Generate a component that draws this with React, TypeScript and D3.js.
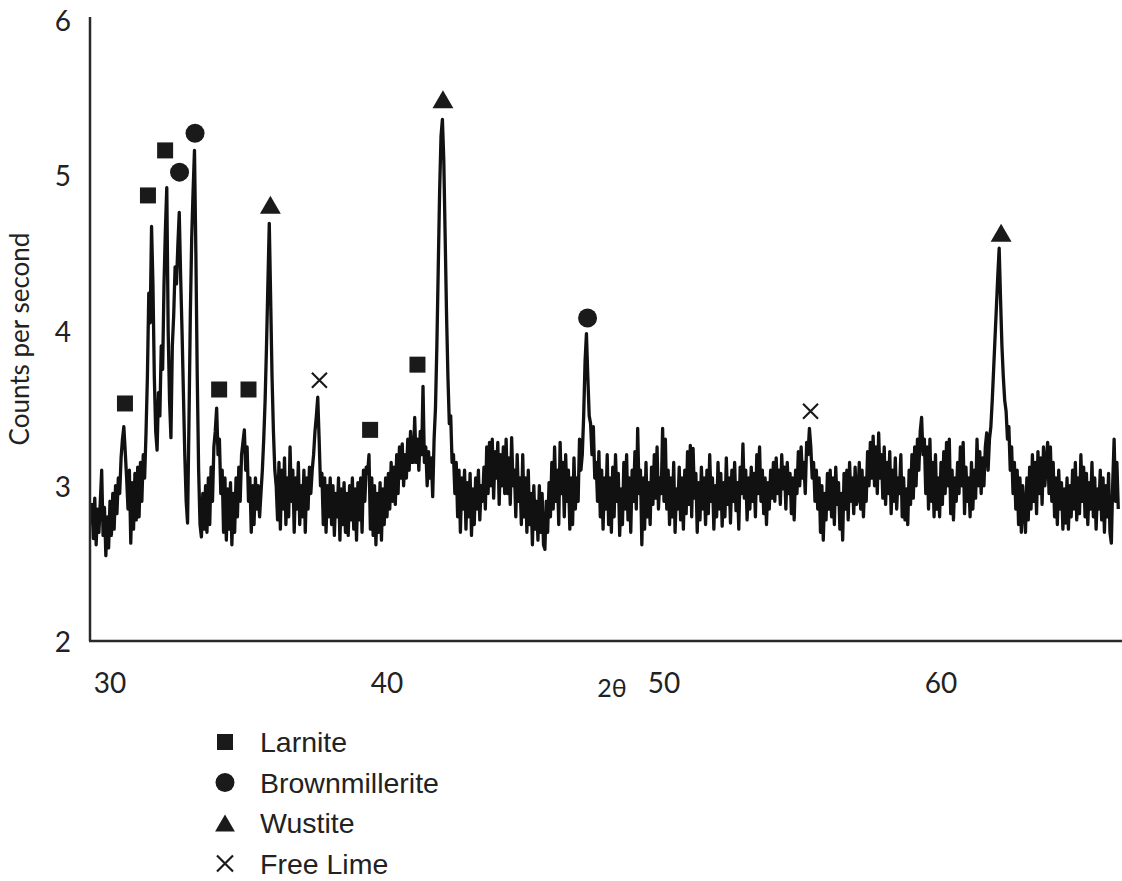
import React from 'react';
import * as d3 from 'd3';

// XRD scan: counts per second sampled every 0.05° 2θ, starting at 29.30°
const ANGLE_START = 29.3;
const ANGLE_STEP = 0.05;

const counts29 = [2.75, 2.88, 2.66, 2.92, 2.62, 2.85, 2.70, 2.90, 3.10, 2.68, 2.86, 2.55, 2.80, 2.60];
const counts30 = [2.90, 2.68, 2.95, 2.72, 3.00, 2.82, 3.05, 2.95, 3.18, 3.30, 3.38, 3.22, 3.05, 2.85, 3.10, 2.63, 3.02, 2.72, 3.08, 2.78];
const counts31 = [3.12, 2.80, 3.15, 2.90, 3.20, 3.05, 3.34, 3.70, 4.24, 4.05, 4.67, 4.30, 3.70, 3.35, 3.23, 3.60, 3.45, 3.90, 3.75, 4.30];
const counts32 = [4.65, 4.92, 4.00, 3.55, 3.31, 3.90, 4.10, 4.41, 4.30, 4.55, 4.76, 4.35, 4.00, 3.60, 3.20, 2.90, 2.76, 3.40, 4.10, 4.60];
const counts33 = [4.90, 5.16, 4.50, 3.70, 3.10, 2.75, 2.67, 2.95, 2.72, 3.00, 2.70, 3.05, 2.75, 3.12, 2.90, 3.25, 3.35, 3.50, 3.20, 3.30];
const counts34 = [2.95, 3.10, 2.70, 3.05, 2.65, 2.98, 2.72, 3.02, 2.62, 2.95, 2.70, 3.05, 2.80, 3.12, 2.90, 3.20, 3.28, 3.36, 3.10, 3.25];
const counts35 = [2.90, 3.05, 2.70, 3.00, 2.75, 3.05, 2.85, 3.00, 2.80, 2.95, 3.10, 3.30, 3.55, 3.90, 4.30, 4.69, 4.20, 3.70, 3.35, 3.10];
const counts36 = [3.00, 2.78, 3.15, 2.72, 3.10, 2.85, 3.18, 2.75, 3.05, 2.80, 3.25, 2.90, 3.10, 2.70, 3.05, 2.85, 3.15, 2.75, 3.00, 2.80];
const counts37 = [3.10, 2.70, 3.05, 2.85, 3.12, 2.95, 3.10, 3.20, 3.35, 3.45, 3.57, 3.30, 3.00, 3.08, 2.75, 3.05, 2.70, 3.00, 2.80, 3.05];
const counts38 = [2.75, 3.00, 2.68, 2.95, 2.80, 3.05, 2.65, 2.98, 2.75, 3.02, 2.70, 2.95, 2.68, 3.00, 2.78, 3.05, 2.72, 2.98, 2.65, 3.02];
const counts39 = [2.78, 3.05, 2.70, 3.10, 2.90, 3.12, 3.08, 3.20, 2.72, 3.05, 2.68, 3.00, 2.62, 2.95, 2.70, 3.02, 2.65, 2.98, 2.75, 3.05];
const counts40 = [2.80, 3.08, 2.85, 3.15, 2.90, 3.12, 2.88, 3.20, 2.95, 3.25, 3.05, 3.27, 3.00, 3.20, 3.05, 3.30, 3.10, 3.35, 3.15, 3.15];
const counts41 = [3.44, 3.15, 3.30, 3.10, 3.35, 3.20, 3.64, 3.15, 3.25, 3.00, 3.22, 3.05, 3.18, 2.93, 3.30, 3.50, 3.90, 4.40, 4.90, 5.25];
const counts42 = [5.36, 5.10, 4.60, 4.10, 3.70, 3.40, 3.45, 3.15, 3.20, 2.95, 3.15, 2.80, 3.10, 2.70, 3.05, 2.85, 3.10, 2.72, 3.02, 2.80];
const counts43 = [3.08, 2.68, 2.98, 2.75, 3.05, 2.85, 3.10, 2.78, 3.00, 2.90, 3.12, 2.85, 3.25, 2.95, 3.28, 3.00, 3.30, 2.92, 3.22, 3.05];
const counts44 = [3.28, 2.88, 3.20, 3.00, 3.25, 2.95, 3.30, 2.95, 3.18, 2.88, 3.31, 3.00, 3.10, 2.80, 3.20, 2.90, 3.05, 2.75, 3.20, 2.80];
const counts45 = [3.05, 2.70, 3.10, 2.75, 2.95, 2.62, 3.00, 2.72, 2.90, 2.65, 3.00, 2.70, 2.95, 2.62, 2.59, 2.90, 2.70, 3.02, 2.80, 3.15];
const counts46 = [2.85, 3.25, 2.90, 3.10, 2.75, 3.28, 2.95, 3.15, 2.80, 3.20, 2.90, 3.10, 2.72, 3.05, 2.75, 3.18, 2.85, 3.05, 2.90, 3.30];
const counts47 = [3.10, 3.20, 3.45, 3.80, 3.98, 3.70, 3.45, 3.40, 3.20, 3.38, 3.05, 3.15, 2.90, 3.22, 2.80, 3.10, 2.72, 3.05, 2.85, 3.20];
const counts48 = [2.75, 3.05, 2.70, 3.12, 2.80, 3.20, 2.90, 3.08, 2.68, 2.98, 2.75, 3.15, 2.85, 3.20, 2.78, 3.05, 2.70, 3.10, 2.90, 3.22];
const counts49 = [2.85, 3.37, 2.95, 3.10, 2.62, 3.05, 2.72, 3.15, 2.80, 3.02, 2.75, 3.12, 2.88, 3.20, 2.92, 3.25, 2.85, 3.05, 2.95, 3.37];
const counts50 = [2.90, 3.30, 2.85, 3.10, 2.75, 3.05, 2.80, 3.15, 2.70, 2.98, 2.85, 3.12, 2.78, 3.05, 2.72, 3.10, 2.82, 3.22, 2.88, 3.26];
const counts51 = [2.80, 3.24, 2.92, 3.08, 2.70, 3.02, 2.78, 3.12, 2.85, 3.05, 2.75, 3.10, 2.82, 3.20, 2.90, 3.05, 2.72, 3.00, 2.80, 3.15];
const counts52 = [2.85, 3.08, 2.74, 3.02, 2.80, 3.18, 2.88, 3.05, 2.76, 3.10, 2.90, 3.15, 2.84, 3.02, 2.72, 3.12, 2.95, 3.27, 2.92, 3.10];
const counts53 = [2.78, 3.05, 2.85, 3.12, 2.90, 3.08, 2.80, 3.20, 2.95, 3.25, 2.90, 3.10, 2.82, 3.05, 2.75, 3.02, 2.85, 3.10, 2.92, 3.15];
const counts54 = [2.90, 3.18, 2.95, 3.10, 2.88, 3.20, 2.98, 3.12, 2.85, 3.15, 2.95, 3.08, 2.82, 3.05, 2.78, 3.10, 2.95, 3.22, 3.00, 3.25];
const counts55 = [3.05, 3.15, 2.95, 3.28, 3.20, 3.37, 3.25, 3.05, 3.15, 2.90, 3.10, 2.85, 3.05, 2.70, 3.00, 2.65, 2.95, 2.78, 3.08, 2.85];
const counts56 = [3.10, 2.80, 3.05, 2.75, 3.12, 2.88, 3.02, 2.72, 2.95, 2.65, 3.08, 2.85, 3.10, 2.78, 3.15, 2.90, 3.05, 2.82, 3.12, 2.88];
const counts57 = [2.92, 3.15, 2.85, 3.10, 2.80, 3.05, 2.90, 3.22, 3.00, 3.28, 3.05, 3.32, 3.00, 3.25, 2.95, 3.34, 3.05, 3.20, 2.92, 3.25];
const counts58 = [2.88, 3.15, 2.95, 3.22, 2.82, 3.10, 2.90, 3.18, 2.85, 3.05, 2.95, 3.20, 2.80, 3.05, 2.78, 2.98, 2.75, 3.10, 2.88, 3.20];
const counts59 = [2.92, 3.25, 3.00, 3.30, 3.10, 3.35, 3.44, 3.20, 3.30, 2.95, 3.25, 2.85, 3.30, 2.90, 3.15, 2.80, 3.20, 2.85, 3.05, 2.80];
const counts60 = [3.15, 2.88, 3.22, 2.95, 3.28, 3.00, 3.30, 2.82, 3.10, 2.78, 3.05, 2.90, 3.15, 2.95, 3.25, 3.00, 3.28, 2.82, 3.12, 2.90];
const counts61 = [3.05, 2.80, 3.15, 2.85, 3.10, 2.92, 3.30, 3.00, 3.22, 2.95, 3.18, 3.00, 3.25, 3.34, 3.10, 3.30, 3.38, 3.55, 3.75, 3.95];
const counts62 = [4.15, 4.35, 4.53, 4.20, 3.90, 3.70, 3.55, 3.48, 3.30, 3.38, 3.10, 3.25, 2.95, 3.15, 2.85, 3.10, 2.75, 3.05, 2.70, 3.00];
const counts63 = [2.85, 2.70, 3.05, 2.78, 3.12, 2.85, 3.20, 2.90, 3.15, 2.82, 3.22, 2.95, 3.18, 2.88, 3.25, 3.00, 3.15, 3.28, 2.95, 3.25];
const counts64 = [2.90, 3.15, 2.80, 3.05, 2.75, 3.10, 2.85, 3.02, 2.72, 2.98, 2.76, 3.05, 2.72, 3.00, 2.80, 3.10, 2.85, 3.15, 2.78, 3.05];
const counts65 = [2.82, 3.20, 2.90, 3.12, 2.80, 3.08, 2.75, 3.02, 2.85, 3.15, 2.80, 3.05, 2.72, 2.98, 2.85, 3.10, 2.78, 3.05, 2.70, 3.00];
const counts66 = [2.80, 3.08, 2.70, 2.63, 3.02, 3.30, 2.90, 3.15, 2.85];

const COUNTS = [
  ...counts29, ...counts30, ...counts31, ...counts32, ...counts33, ...counts34,
  ...counts35, ...counts36, ...counts37, ...counts38, ...counts39, ...counts40,
  ...counts41, ...counts42, ...counts43, ...counts44, ...counts45, ...counts46,
  ...counts47, ...counts48, ...counts49, ...counts50, ...counts51, ...counts52,
  ...counts53, ...counts54, ...counts55, ...counts56, ...counts57, ...counts58,
  ...counts59, ...counts60, ...counts61, ...counts62, ...counts63, ...counts64,
  ...counts65, ...counts66,
];

// Phase markers [2θ, counts]
const LARNITE = [[30.54, 3.53], [31.37, 4.87], [31.99, 5.16], [33.94, 3.62], [35.0, 3.62], [39.39, 3.36], [41.1, 3.78]];
const BROWNMILLERITE = [[32.51, 5.02], [33.07, 5.27], [47.24, 4.08]];
const WUSTITE = [[35.79, 4.81], [42.02, 5.49], [62.17, 4.63]];
const FREE_LIME = [[37.56, 3.68], [55.29, 3.48]];

const X_TICKS = [30, 40, 50, 60];
const Y_TICKS = [2, 3, 4, 5, 6];
const LEGEND_LABELS = ['Larnite', 'Brownmillerite', 'Wustite', 'Free Lime'];
const LEGEND_SHAPES = ['square', 'circle', 'triangle', 'cross'];

function markerPath(shape: string, s: number) {
  const h = s / 2;
  if (shape === 'square') return `M${-h},${-h}H${h}V${h}H${-h}Z`;
  if (shape === 'triangle') return `M0,${-h * 0.95}L${h * 1.1},${h * 0.95}L${-h * 1.1},${h * 0.95}Z`;
  if (shape === 'cross') return `M${-h},${-h}L${h},${h}M${h},${-h}L${-h},${h}`;
  return '';
}

function Marker({ shape, cx, cy, s }: { shape: string; cx: number; cy: number; s: number }) {
  if (shape === 'circle') return <circle cx={cx} cy={cy} r={s / 2} fill="#1a1a1a" />;
  if (shape === 'cross')
    return <path d={markerPath('cross', s)} transform={`translate(${cx},${cy})`} stroke="#1a1a1a" strokeWidth={2.2} fill="none" />;
  return <path d={markerPath(shape, s)} transform={`translate(${cx},${cy})`} fill="#1a1a1a" />;
}

export default function App() {
  const W = 1122;
  const H = 881;
  const x = d3.scaleLinear().domain([30, 60]).range([110, 941]);
  const y = d3.scaleLinear().domain([2, 6]).range([641, 20]);
  const pts: [number, number][] = COUNTS.map((v, i) => [ANGLE_START + i * ANGLE_STEP, v]);
  const line = d3.line<[number, number]>().x((d) => x(d[0])).y((d) => y(d[1]));

  const axisFont = 'Lato, "Open Sans", sans-serif';
  const legendFont = '"Liberation Sans", Arial, sans-serif';

  const phases: [number[][], string, number][] = [
    [LARNITE, 'square', 16],
    [BROWNMILLERITE, 'circle', 19],
    [WUSTITE, 'triangle', 19],
    [FREE_LIME, 'cross', 15],
  ];

  return (
    <svg width={W} height={H} style={{ position: 'absolute', left: 0, top: 0, background: '#fff' }}>
      <rect width={W} height={H} fill="#fff" />
      {/* trace */}
      <path d={line(pts) || ''} fill="none" stroke="#111" strokeWidth={3.3} strokeLinejoin="round" />
      {/* axes */}
      <line x1={90} x2={90} y1={17} y2={641} stroke="#2a2a2a" strokeWidth={2.5} />
      <line x1={89} x2={W} y1={641} y2={641} stroke="#2a2a2a" strokeWidth={2.5} />
      {Y_TICKS.map((t) => (
        <text key={t} x={71} y={y(t)} textAnchor="end" dominantBaseline="central" fontFamily={axisFont} fontSize={28} fill="#222">
          {t}
        </text>
      ))}
      {X_TICKS.map((t) => (
        <text key={t} x={x(t)} y={682} textAnchor="middle" dominantBaseline="central" fontFamily={axisFont} fontSize={28} fill="#222">
          {t}
        </text>
      ))}
      <text x={612} y={687} textAnchor="middle" dominantBaseline="central" fontFamily={axisFont} fontSize={25} fill="#222">
        2θ
      </text>
      <text
        transform={`translate(19,339) rotate(-90)`}
        textAnchor="middle"
        dominantBaseline="central"
        fontFamily={axisFont}
        fontSize={26}
        fill="#222"
      >
        Counts per second
      </text>
      {/* phase markers */}
      {phases.map(([arr, shape, s]) =>
        arr.map((d, i) => <Marker key={shape + i} shape={shape} cx={x(d[0])} cy={y(d[1])} s={s} />)
      )}
      {/* legend */}
      {LEGEND_LABELS.map((lab, i) => {
        const cy = 742 + i * 40.5;
        const sh = LEGEND_SHAPES[i];
        return (
          <g key={lab}>
            <Marker shape={sh} cx={225} cy={cy} s={sh === 'circle' ? 19 : sh === 'triangle' ? 18 : 16} />
            <text x={260} y={cy} dominantBaseline="central" fontFamily={legendFont} fontSize={28.5} fill="#222">
              {lab}
            </text>
          </g>
        );
      })}
    </svg>
  );
}
